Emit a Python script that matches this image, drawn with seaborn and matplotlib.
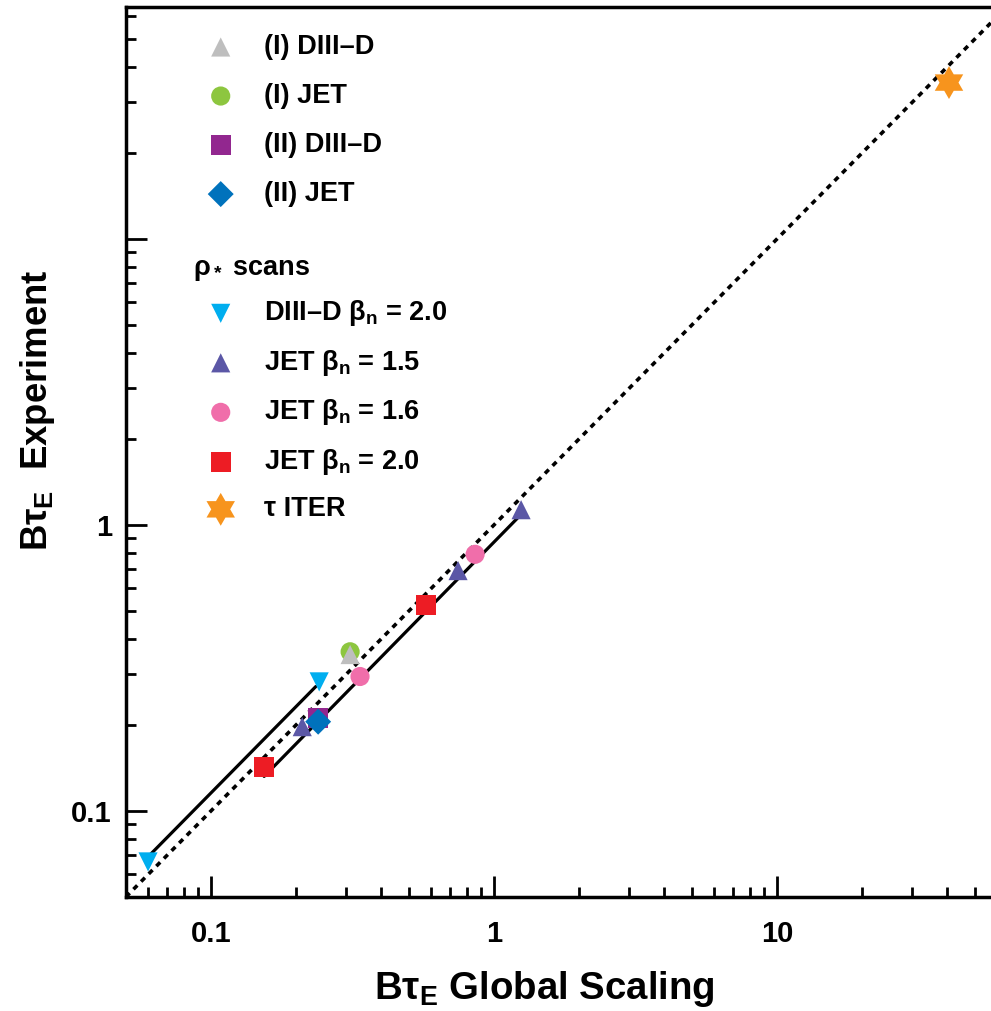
import numpy as np
import pandas as pd
import matplotlib
matplotlib.use("Agg")
import matplotlib.pyplot as plt
import seaborn as sns
from matplotlib.path import Path

# ---------------- data ----------------
d3d_I_x = [0.310]
d3d_I_y = [0.352]
jet_I_x = [0.310]
jet_I_y = [0.360]
d3d_II_x = [0.239]
d3d_II_y = [0.211]
jet_II_x = [0.239]
jet_II_y = [0.205]
d3d_b20_x = [0.0599, 0.241]
d3d_b20_y = [0.0663, 0.2825]
jet_b15_x = [0.210, 0.746, 1.246]
jet_b15_y = [0.197, 0.692, 1.13]
jet_b16_x = [0.336, 0.857]
jet_b16_y = [0.295, 0.789]
jet_b20_x = [0.154, 0.575]
jet_b20_y = [0.1425, 0.525]
iter_x = [40.5]
iter_y = [35.2]

fit_d3d_x = [0.060, 0.2344]
fit_d3d_y = [0.0692, 0.272]
fit_jet_x = [0.154, 1.209]
fit_jet_y = [0.132, 1.055]
identity_x = [0.05, 57.0]
identity_y = [0.05, 57.0]

xtick_vals = [0.1, 1, 10]
xtick_labels = ["0.1", "1", "10"]
ytick_vals = [0.1, 1, 10]
ytick_labels = ["0.1", "1", ""]

lab_d3d_I = "(I) DIII\u2013D"
lab_jet_I = "(I) JET"
lab_d3d_II = "(II) DIII\u2013D"
lab_jet_II = "(II) JET"
lab_d3d_b20 = "DIII\u2013D \u03b2$_\\mathrm{n}$ = 2.0"
lab_jet_b15 = "JET \u03b2$_\\mathrm{n}$ = 1.5"
lab_jet_b16 = "JET \u03b2$_\\mathrm{n}$ = 1.6"
lab_jet_b20 = "JET \u03b2$_\\mathrm{n}$ = 2.0"
lab_iter = "\u03c4 ITER"

# ---------------- style ----------------
sns.set_style("ticks")
plt.rcParams["font.family"] = ["Liberation Sans", "DejaVu Sans"]
plt.rcParams["font.weight"] = "bold"
plt.rcParams["mathtext.fontset"] = "custom"
plt.rcParams["mathtext.rm"] = "Liberation Sans:bold"
plt.rcParams["mathtext.bf"] = "Liberation Sans:bold"
plt.rcParams["mathtext.it"] = "Liberation Sans:bold"
plt.rcParams["mathtext.sf"] = "Liberation Sans:bold"
for k in ["text.color", "axes.labelcolor", "xtick.color", "ytick.color",
          "axes.edgecolor"]:
    plt.rcParams[k] = "black"

fig = plt.figure(figsize=(9.91, 10.11), dpi=100)
ax = fig.add_axes([0.127, 0.1128, 0.873, 0.8803])
ax.set_xscale("log")
ax.set_yscale("log")

# lines
sns.lineplot(x=identity_x, y=identity_y, ax=ax, color="black", lw=2.6,
             linestyle=(0, (1.5, 1.5)), zorder=1)
sns.lineplot(x=fit_d3d_x, y=fit_d3d_y, ax=ax, color="black", lw=2.3, zorder=1)
sns.lineplot(x=fit_jet_x, y=fit_jet_y, ax=ax, color="black", lw=2.3, zorder=1)

star6 = Path.unit_regular_star(6, 0.577)

series = [
    (d3d_b20_x, d3d_b20_y, "#00AEEF", "v", 190, lab_d3d_b20, 3),
    (jet_b15_x, jet_b15_y, "#5B57A6", "^", 190, lab_jet_b15, 3),
    (jet_b16_x, jet_b16_y, "#F06EAA", "o", 190, lab_jet_b16, 3),
    (jet_b20_x, jet_b20_y, "#ED1C24", "s", 200, lab_jet_b20, 3),
    (jet_I_x, jet_I_y, "#8DC63F", "o", 190, lab_jet_I, 4),
    (d3d_I_x, d3d_I_y, "#BEBEBE", "^", 190, lab_d3d_I, 5),
    (d3d_II_x, d3d_II_y, "#92278F", "s", 200, lab_d3d_II, 4),
    (jet_II_x, jet_II_y, "#0072BC", "D", 175, lab_jet_II, 5),
    (iter_x, iter_y, "#F7941D", star6, 560, lab_iter, 5),
]
for xs, ys, col, mk, sz, lab, zo in series:
    sns.scatterplot(x=xs, y=ys, ax=ax, color=col, marker=mk, s=sz,
                    linewidth=0, edgecolor="none", label=lab, zorder=zo)

ax.set_xlim(0.05, 57.0)
ax.set_ylim(0.05, 64.7)

ax.set_xticks(xtick_vals, labels=xtick_labels)
ax.set_yticks(ytick_vals, labels=ytick_labels)
ax.tick_params(which="major", direction="in", length=15, width=2,
               labelsize=21, pad=10)
ax.tick_params(axis="x", which="major", pad=16.5)
ax.tick_params(which="minor", direction="in", length=7, width=2)
for sp in ["left", "bottom", "top"]:
    ax.spines[sp].set_linewidth(2.5)
ax.spines["right"].set_visible(False)

ax.set_xlabel("B\u03c4$_\\mathrm{E}$ Global Scaling", fontsize=27.6,
              fontweight="bold")
ax.xaxis.set_label_coords(0.484, -0.103)
ax.xaxis.label.set_va("center")
ax.set_ylabel("B\u03c4$_\\mathrm{E}$  Experiment", fontsize=26.3,
              fontweight="bold")
ax.yaxis.set_label_coords(-0.102, 0.547)
ax.yaxis.label.set_va("center")

# legends
handles, labels = ax.get_legend_handles_labels()
hmap = dict(zip(labels, handles))
order1 = [lab_d3d_I, lab_jet_I, lab_d3d_II, lab_jet_II]
order2 = [lab_d3d_b20, lab_jet_b15, lab_jet_b16, lab_jet_b20, lab_iter]
common = dict(loc="upper left", frameon=False, borderpad=0, borderaxespad=0,
              handlelength=1.0, handletextpad=1.1,
              fontsize=19.5, scatterpoints=1)
leg1 = ax.legend([hmap[l] for l in order1], order1,
                 bbox_to_anchor=(0.094, 0.9695), labelspacing=0.85, **common)
ax.add_artist(leg1)
leg2 = ax.legend([hmap[l] for l in order2], order2,
                 bbox_to_anchor=(0.094, 0.6725), labelspacing=0.72, **common)
ax.text(0.0775, 0.7045, "\u03c1$_*$ scans", transform=ax.transAxes,
        fontsize=19.5, fontweight="bold", va="center", ha="left")

fig.savefig("out.png", dpi=100)
